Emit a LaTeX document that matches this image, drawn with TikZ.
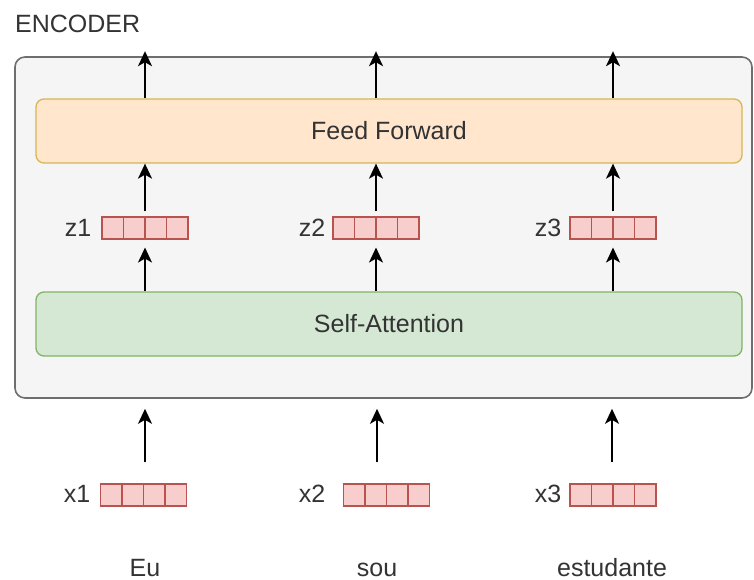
\documentclass[tikz,border=0pt]{standalone}
\usepackage{fontspec}
\setmainfont{Liberation Sans}
\usetikzlibrary{arrows.meta, positioning}
\definecolor{encgray}{HTML}{F5F5F5}
\definecolor{encline}{HTML}{6E6E6E}
\definecolor{ffpeach}{HTML}{FFE6CC}
\definecolor{ffgold}{HTML}{D6B656}
\definecolor{sagreen}{HTML}{D5E8D4}
\definecolor{saline}{HTML}{82B366}
\definecolor{cellpink}{HTML}{F8CECC}
\definecolor{cellred}{HTML}{B85450}
\definecolor{txtgray}{HTML}{333333}

\begin{document}
\begin{tikzpicture}[x=1pt, y=-1pt,
    every node/.style={font=\fontsize{25}{29}\selectfont, text=txtgray},
    label/.style={anchor=base, inner sep=0pt},
    layer/.style={rounded corners=8pt, line width=1.3pt,
                  minimum width=706pt, minimum height=64pt, align=center},
    vec/.style={draw=cellred, fill=cellpink, line width=1.1pt,
                minimum width=86pt, minimum height=22pt, inner sep=0pt,
                path picture={\foreach \k in {1,2,3}
                  \draw[cellred, line width=1.1pt]
                    ([xshift=\k*21.5pt]path picture bounding box.south west) --
                    ([xshift=\k*21.5pt]path picture bounding box.north west);}},
    arr/.style={-{Stealth[length=15pt, width=14pt, inset=4pt]}, line width=1.9pt, black}
  ]
    \useasboundingbox (0,0) rectangle (754,580);

    % encoder block
    \node[anchor=base west, inner sep=0pt] (title) at (15,33) {ENCODER};
    \node[draw=encline, fill=encgray, rounded corners=10pt, line width=1.6pt,
          minimum width=737pt, minimum height=341pt] (enc) at (383.5,227.5) {};

    \node[layer, draw=ffgold, fill=ffpeach] (ff) at (389,131) {Feed Forward};
    \node[layer, draw=saline, fill=sagreen] (sa) at (389,324) {Self-Attention};

    % z vectors
    \node[vec] (zv1) at (145,228) {};
    \node[vec] (zv2) at (376,228) {};
    \node[vec] (zv3) at (613,228) {};
    \node[label] (zl1) at (78,236) {z1};
    \node[label] (zl2) at (312,236) {z2};
    \node[label] (zl3) at (548,236) {z3};

    % inputs
    \node[vec] (xv1) at (143.5,495) {};
    \node[vec] (xv2) at (386.5,495) {};
    \node[vec] (xv3) at (613,495) {};
    \node[label] (xl1) at (77,502) {x1};
    \node[label] (xl2) at (312,502) {x2};
    \node[label] (xl3) at (548,502) {x3};

    \node[label] (w1) at (145,576) {Eu};
    \node[label] (w2) at (377,576) {sou};
    \node[label] (w3) at (612,576) {estudante};

    \foreach \i in {1,2,3} {
      \draw[arr] (ff.north -| zv\i) -- ([yshift=5pt]enc.north -| zv\i);
      \draw[arr] ([yshift=5pt]zv\i.north) -- (ff.south -| zv\i);
      \draw[arr, shorten >=8pt] (sa.north -| zv\i) -- (zv\i.south);
      \draw[arr] ([yshift=21pt]xv\i.north -| w\i) -- ([yshift=-10pt]enc.south -| w\i);
    }
\end{tikzpicture}
\end{document}
